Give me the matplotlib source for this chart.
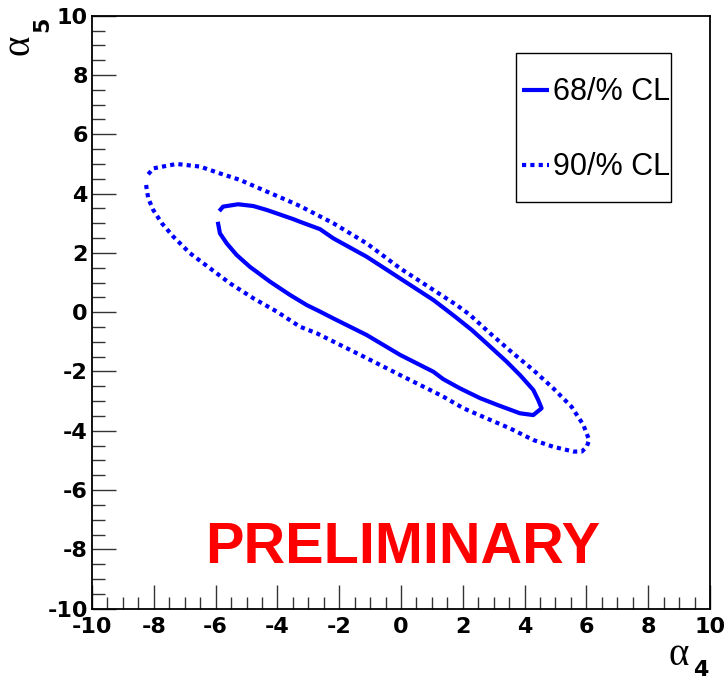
import matplotlib
matplotlib.use('Agg')
import matplotlib.pyplot as plt
import numpy as np
from matplotlib.patches import Rectangle
from matplotlib.lines import Line2D

plt.rcParams['font.family'] = 'DejaVu Sans'
plt.rcParams['font.weight'] = 'bold'
plt.rcParams['axes.unicode_minus'] = False

# 68% CL contour (alpha4, alpha5)
a4_68 = [-5.88, -5.76, -5.27, -4.78, -4.35, -3.49, -3.27, -2.62, -2.19, -1.11,
         -0.03, 1.05, 1.75, 2.29, 2.77, 3.42, 3.85, 4.28, 4.44, 4.55,
         4.28, 3.85, 3.20, 2.56, 1.91, 1.37, 1.05, -0.03, -1.11, -2.19,
         -2.62, -3.05, -3.59, -4.24, -4.89, -5.32, -5.64, -5.86, -5.93]
a5_68 = [3.41, 3.56, 3.64, 3.58, 3.45, 3.14, 3.05, 2.80, 2.49, 1.87,
         1.14, 0.41, -0.15, -0.60, -1.05, -1.67, -2.12, -2.62, -2.96, -3.24,
         -3.47, -3.41, -3.16, -2.90, -2.57, -2.26, -2.01, -1.44, -0.77, -0.21,
         0.02, 0.24, 0.58, 1.03, 1.53, 1.93, 2.32, 2.66, 3.05]

# 90% CL contour
a4_90 = [-8.18, -8.02, -7.26, -6.50, -5.86, -5.21, -4.46, -3.70, -3.27, -2.19,
         -1.11, -0.03, 1.05, 1.80, 2.23, 2.88, 3.63, 4.28, 4.93, 5.52,
         5.90, 6.09, 6.01, 5.85, 5.58, 4.93, 4.28, 3.53, 2.77, 2.02,
         1.37, 1.05, -0.03, -1.11, -2.19, -2.73, -3.27, -4.02, -4.78, -5.53,
         -6.18, -6.83, -7.37, -7.74, -8.02, -8.18, -8.25]
a5_90 = [4.65, 4.85, 5.00, 4.91, 4.68, 4.46, 4.12, 3.78, 3.58, 3.00,
         2.32, 1.48, 0.75, 0.24, -0.09, -0.71, -1.39, -1.95, -2.57, -3.19,
         -3.80, -4.31, -4.54, -4.70, -4.70, -4.54, -4.31, -3.92, -3.58, -3.24,
         -2.85, -2.68, -2.12, -1.55, -0.99, -0.71, -0.49, 0.02, 0.47, 0.97,
         1.48, 1.99, 2.55, 3.00, 3.45, 3.84, 4.29]

labels = ['68/% CL', '90/% CL']

fig = plt.figure(figsize=(7.25, 6.82), dpi=100)
ax = fig.add_axes([0.1269, 0.1075, 0.8524, 0.8695])

ax.plot(a4_68, a5_68, color='#0000ff', lw=3.0, solid_capstyle='butt')
ax.plot(a4_90, a5_90, color='#0000ff', lw=3.0, linestyle=(0, (1, 1)),
        dash_capstyle='butt')

ax.set_xlim(-10, 10)
ax.set_ylim(-10, 10)
ax.set_xticks(np.arange(-10, 11, 2))
ax.set_yticks(np.arange(-10, 11, 2))
ax.set_xticks(np.arange(-10, 10.01, 0.5), minor=True)
ax.set_yticks(np.arange(-10, 10.01, 0.5), minor=True)
ax.tick_params(which='both', direction='in', top=False, right=False,
               color='#333333', width=1.0, labelsize=16)
ax.tick_params(which='major', length=17)
ax.tick_params(which='minor', length=9)
ax.tick_params(axis='x', which='major', pad=6)
ax.tick_params(axis='y', which='major', pad=3)
for sp in ax.spines.values():
    sp.set_linewidth(1.3)

# legend box
ax.add_patch(Rectangle((0.686, 0.686), 0.251, 0.2516, transform=ax.transAxes,
                       fill=False, edgecolor='black', lw=1.0, zorder=5))
styles = ['-', (0, (1, 1))]
ys = [0.875, 0.748]
for lab, ls, yy in zip(labels, styles, ys):
    ax.add_line(Line2D([0.696, 0.7395], [yy, yy], transform=ax.transAxes,
                       color='#0000ff', lw=3.0, linestyle=ls,
                       dash_capstyle='butt', solid_capstyle='butt'))
    ax.text(0.746, yy - 0.003, lab, transform=ax.transAxes, ha='left',
            va='center', fontsize=22, fontweight='normal',
            family='Liberation Sans')

ax.text(0.503, 0.0771, 'PRELIMINARY', transform=ax.transAxes, ha='center',
        va='baseline', color='#ff0000', fontsize=41.5, fontweight='bold',
        family='Liberation Sans')

# axis titles
fig.text(0.9214, 0.0250, 'α', fontsize=28, family='Liberation Serif',
         fontweight='normal', ha='left', va='baseline')
fig.text(0.9559, 0.0095, '4', fontsize=16, ha='left', va='baseline')
fig.text(0.0400, 0.919, 'α', fontsize=28, family='Liberation Serif',
         fontweight='normal', rotation=90, rotation_mode='anchor',
         ha='left', va='baseline')
fig.text(0.0662, 0.953, '5', fontsize=16, rotation=90,
         rotation_mode='anchor', ha='left', va='baseline')

fig.savefig('out.png', dpi=100)
